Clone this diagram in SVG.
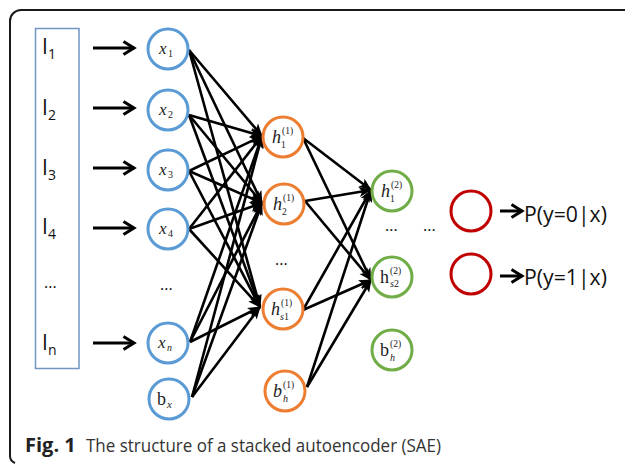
<svg xmlns="http://www.w3.org/2000/svg" width="625" height="465" viewBox="0 0 625 465">
<defs>
<marker id="ah" markerUnits="userSpaceOnUse" markerWidth="14" markerHeight="12" refX="12" refY="5" orient="auto" overflow="visible">
<path d="M0,0 L13,5 L0,10 L3,5 Z" fill="#000"/>
</marker>
<marker id="chev" markerUnits="userSpaceOnUse" markerWidth="14" markerHeight="14" refX="11" refY="7" orient="auto" overflow="visible">
<path d="M0.5,0.5 L11,7 L0.5,13.5" fill="none" stroke="#000" stroke-width="3"/>
</marker>
</defs>
<style>
.frame{fill:none;stroke:#1a1a1a;stroke-width:2}
.inbox{fill:none;stroke:#6f95c0;stroke-width:1.5}
.blue{fill:#fff;stroke:#5b9bd5;stroke-width:3}
.orange{fill:#fff;stroke:#ed7d31;stroke-width:3}
.green{fill:#fff;stroke:#70ad47;stroke-width:3}
.red{fill:#fff;stroke:#c00000;stroke-width:3}
.lbl{font-family:"Open Sans","Liberation Sans",sans-serif;font-size:21px;fill:#111}
.sub{font-size:14px}
.dots{font-family:"Open Sans","Liberation Sans",sans-serif;font-size:16px;fill:#111}
.m{font-family:"Liberation Serif",serif;fill:#222}
.mi{font-family:"Liberation Serif",serif;font-style:italic;fill:#222}
.net{stroke:#000;stroke-width:2.6;fill:none;marker-end:url(#ah)}
.inarr{stroke:#000;stroke-width:3;fill:none;marker-end:url(#chev)}
.cap{font-family:"Open Sans","Liberation Sans",sans-serif;font-size:18px;fill:#333}
</style>
<rect width="625" height="465" fill="#fff"/>
<path class="frame" d="M625,10 H21 A11,11 0 0 0 10,21 V455 A8,8 0 0 0 15,463"/>

<g id="inputs">
<rect class="inbox" x="35.5" y="28.5" width="43.5" height="340"/>
<text class="lbl" x="42" y="54">I<tspan class="sub" dy="5">1</tspan></text>
<text class="lbl" x="42" y="115">I<tspan class="sub" dy="5">2</tspan></text>
<text class="lbl" x="42" y="175">I<tspan class="sub" dy="5">3</tspan></text>
<text class="lbl" x="42" y="234">I<tspan class="sub" dy="5">4</tspan></text>
<text class="dots" x="44" y="288">...</text>
<text class="lbl" x="42" y="350">I<tspan class="sub" dy="5">n</tspan></text>
</g>

<g id="connectors">
<line class="inarr" x1="93" y1="48" x2="134" y2="48"/>
<line class="inarr" x1="93" y1="108" x2="134" y2="108"/>
<line class="inarr" x1="93" y1="168" x2="134" y2="168"/>
<line class="inarr" x1="93" y1="228" x2="134" y2="228"/>
<line class="inarr" x1="93" y1="343" x2="134" y2="343"/>
<line class="inarr" x1="500" y1="211" x2="522" y2="211"/>
<line class="inarr" x1="500" y1="276" x2="522" y2="276"/>
<line class="net" x1="189" y1="50" x2="262" y2="136"/>
<line class="net" x1="189" y1="50" x2="262" y2="203"/>
<line class="net" x1="189" y1="50" x2="260" y2="307"/>
<line class="net" x1="189" y1="115" x2="262" y2="136"/>
<line class="net" x1="189" y1="115" x2="262" y2="203"/>
<line class="net" x1="189" y1="115" x2="260" y2="307"/>
<line class="net" x1="189" y1="171" x2="262" y2="136"/>
<line class="net" x1="189" y1="171" x2="262" y2="203"/>
<line class="net" x1="189" y1="171" x2="260" y2="307"/>
<line class="net" x1="189" y1="229" x2="262" y2="136"/>
<line class="net" x1="189" y1="229" x2="262" y2="203"/>
<line class="net" x1="189" y1="229" x2="260" y2="307"/>
<line class="net" x1="190" y1="342" x2="262" y2="136"/>
<line class="net" x1="190" y1="342" x2="262" y2="203"/>
<line class="net" x1="190" y1="342" x2="260" y2="307"/>
<line class="net" x1="192" y1="397" x2="262" y2="136"/>
<line class="net" x1="192" y1="397" x2="262" y2="203"/>
<line class="net" x1="192" y1="397" x2="260" y2="307"/>
<line class="net" x1="303" y1="138" x2="371" y2="190"/>
<line class="net" x1="303" y1="138" x2="371" y2="280"/>
<line class="net" x1="305" y1="201" x2="371" y2="190"/>
<line class="net" x1="305" y1="201" x2="371" y2="280"/>
<line class="net" x1="303" y1="310" x2="371" y2="190"/>
<line class="net" x1="303" y1="310" x2="371" y2="280"/>
<line class="net" x1="307" y1="387" x2="371" y2="190"/>
<line class="net" x1="307" y1="387" x2="371" y2="280"/>
</g>

<g id="x1"><circle class="blue" cx="168" cy="49" r="20"/><text class="mi" x="159" y="54" font-size="17">x</text><text class="m" x="168" y="57" font-size="10">1</text></g>
<g id="x2"><circle class="blue" cx="168" cy="110" r="20"/><text class="mi" x="159" y="115" font-size="17">x</text><text class="m" x="168" y="118" font-size="10">2</text></g>
<g id="x3"><circle class="blue" cx="168" cy="170" r="20"/><text class="mi" x="159" y="175" font-size="17">x</text><text class="m" x="168" y="178" font-size="10">3</text></g>
<g id="x4"><circle class="blue" cx="168" cy="229" r="20"/><text class="mi" x="159" y="234" font-size="17">x</text><text class="m" x="168" y="237" font-size="10">4</text></g>
<text class="dots" x="160" y="290">...</text>
<g id="xn"><circle class="blue" cx="168" cy="343" r="20"/><text class="mi" x="158" y="348" font-size="17">x</text><text class="mi" x="167" y="351" font-size="10">n</text></g>
<g id="bx"><circle class="blue" cx="169" cy="399" r="20"/><text class="m" x="157" y="405" font-size="18">b</text><text class="mi" x="167" y="408" font-size="11">x</text></g>

<g id="h1_1"><circle class="orange" cx="283" cy="137" r="20"/><text class="mi" x="272" y="143" font-size="18">h</text><text class="m" x="282" y="134" font-size="9.5">(1)</text><text class="m" x="281" y="148" font-size="9.5">1</text></g>
<g id="h2_1"><circle class="orange" cx="284" cy="204" r="20"/><text class="mi" x="273" y="210" font-size="18">h</text><text class="m" x="283" y="201" font-size="9.5">(1)</text><text class="m" x="282" y="215" font-size="9.5">2</text></g>
<text class="dots" x="275" y="265">...</text>
<g id="hs1_1"><circle class="orange" cx="283" cy="309" r="20"/><text class="mi" x="271" y="315" font-size="18">h</text><text class="m" x="281" y="306" font-size="9.5">(1)</text><text class="mi" x="280" y="320" font-size="10">s<tspan font-style="normal">1</tspan></text></g>
<g id="bh_1"><circle class="orange" cx="285" cy="391" r="20"/><text class="mi" x="273" y="397" font-size="18">b</text><text class="m" x="283" y="388" font-size="9.5">(1)</text><text class="mi" x="283" y="402" font-size="10">h</text></g>

<g id="h1_2"><circle class="green" cx="392" cy="191" r="20"/><text class="mi" x="381" y="197" font-size="18">h</text><text class="m" x="391" y="188" font-size="9.5">(2)</text><text class="m" x="390" y="202" font-size="9.5">1</text></g>
<text class="dots" x="385" y="231">...</text>
<text class="dots" x="423" y="231">...</text>
<g id="hs2_2"><circle class="green" cx="392" cy="277" r="20"/><text class="m" x="380" y="283" font-size="18">h</text><text class="m" x="390" y="274" font-size="9.5">(2)</text><text class="mi" x="390" y="287" font-size="10">s<tspan font-style="normal">2</tspan></text></g>
<g id="bh_2"><circle class="green" cx="392" cy="350" r="20"/><text class="m" x="380" y="356" font-size="18">b</text><text class="m" x="390" y="347" font-size="9.5">(2)</text><text class="mi" x="390" y="361" font-size="10">h</text></g>

<g id="y0"><circle class="red" cx="471" cy="211" r="20"/></g>
<g id="y1"><circle class="red" cx="471" cy="274" r="20"/></g>
<text class="lbl" x="524" y="222" textLength="83" lengthAdjust="spacingAndGlyphs">P(y=0|x)</text>
<text class="lbl" x="524" y="285" textLength="83" lengthAdjust="spacingAndGlyphs">P(y=1|x)</text>

<text class="cap" x="25" y="452"><tspan font-weight="bold" fill="#222" font-size="20">Fig. 1</tspan><tspan x="86" textLength="355" lengthAdjust="spacingAndGlyphs">The structure of a stacked autoencoder (SAE)</tspan></text>
</svg>
